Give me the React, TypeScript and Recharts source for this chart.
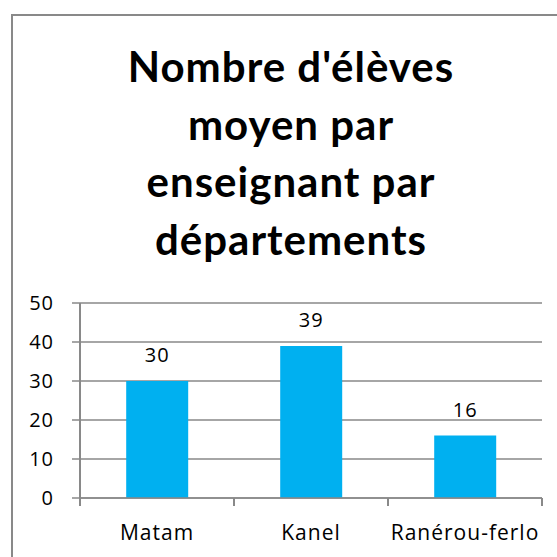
import React from "react";
import { BarChart, Bar, XAxis, YAxis, CartesianGrid, LabelList } from "recharts";

const categories = ["Matam", "Kanel", "Ranérou-ferlo"];
const values = [30, 39, 16];
const yTicks = [0, 10, 20, 30, 40, 50];
const titleLines = ["Nombre d'élèves", "moyen par", "enseignant par", "départements"];

const data = categories.map((name, i) => ({ name, value: values[i] }));

const TITLE_FONT = "Lato, 'Open Sans', sans-serif";
const FONT = "'Open Sans', Lato, sans-serif";
const GRAY = "#898989";

function CategoryTick(props: any) {
  const { x, y, payload, index, visibleTicksCount } = props;
  const half = payload.offset || 0;
  const last = index === (visibleTicksCount ?? categories.length) - 1;
  return (
    <g>
      <line x1={x - half} y1={y} x2={x - half} y2={y + 8} stroke={GRAY} strokeWidth={2} />
      {last && <line x1={x + half} y1={y} x2={x + half} y2={y + 8} stroke={GRAY} strokeWidth={2} />}
      <text x={x} y={y + 42} textAnchor="middle" fill="#000" fontSize={21} letterSpacing={1} fontFamily={FONT}>
        {payload.value}
      </text>
    </g>
  );
}

export default function App() {
  return (
    <div style={{ position: "absolute", left: 0, top: 0, width: 557, height: 557, overflow: "hidden", background: "#fff" }}>
      <div style={{ position: "absolute", left: 11, top: 14, width: 620, height: 620, border: `2px solid ${GRAY}`, boxSizing: "border-box" }} />
      <svg width={557} height={557} style={{ position: "absolute", left: 0, top: 0 }}>
        {titleLines.map((t, i) => (
          <text
            key={i}
            x={291}
            y={82 + i * 57.5}
            textAnchor="middle"
            fontFamily={TITLE_FONT}
            fontWeight={700}
            fontSize={42}
            letterSpacing={1}
            fill="#000"
          >
            {t}
          </text>
        ))}
      </svg>
      <div style={{ position: "absolute", left: 0, top: 0 }}>
        <BarChart
          width={557}
          height={557}
          data={data}
          margin={{ top: 303, right: 15, bottom: 0, left: 0 }}
          barCategoryGap="30%"
        >
          <CartesianGrid vertical={false} stroke={GRAY} strokeWidth={1.5} />
          <XAxis
            dataKey="name"
            height={59}
            tickSize={0}
            tickMargin={0}
            axisLine={{ stroke: GRAY, strokeWidth: 1.5 }}
            tickLine={false}
            tick={<CategoryTick />}
            interval={0}
          />
          <YAxis
            domain={[0, 50]}
            ticks={yTicks}
            width={80}
            tickSize={8}
            tickMargin={18}
            axisLine={{ stroke: GRAY, strokeWidth: 2 }}
            tickLine={{ stroke: GRAY, strokeWidth: 1.5 }}
            tick={{ fill: "#000", fontSize: 20, fontFamily: FONT, letterSpacing: 1 }}
          />
          <Bar dataKey="value" fill="#00B0F0" isAnimationActive={false}>
            <LabelList dataKey="value" position="top" offset={19} fill="#000" fontSize={20} letterSpacing={1} fontFamily={FONT} />
          </Bar>
        </BarChart>
      </div>
    </div>
  );
}
